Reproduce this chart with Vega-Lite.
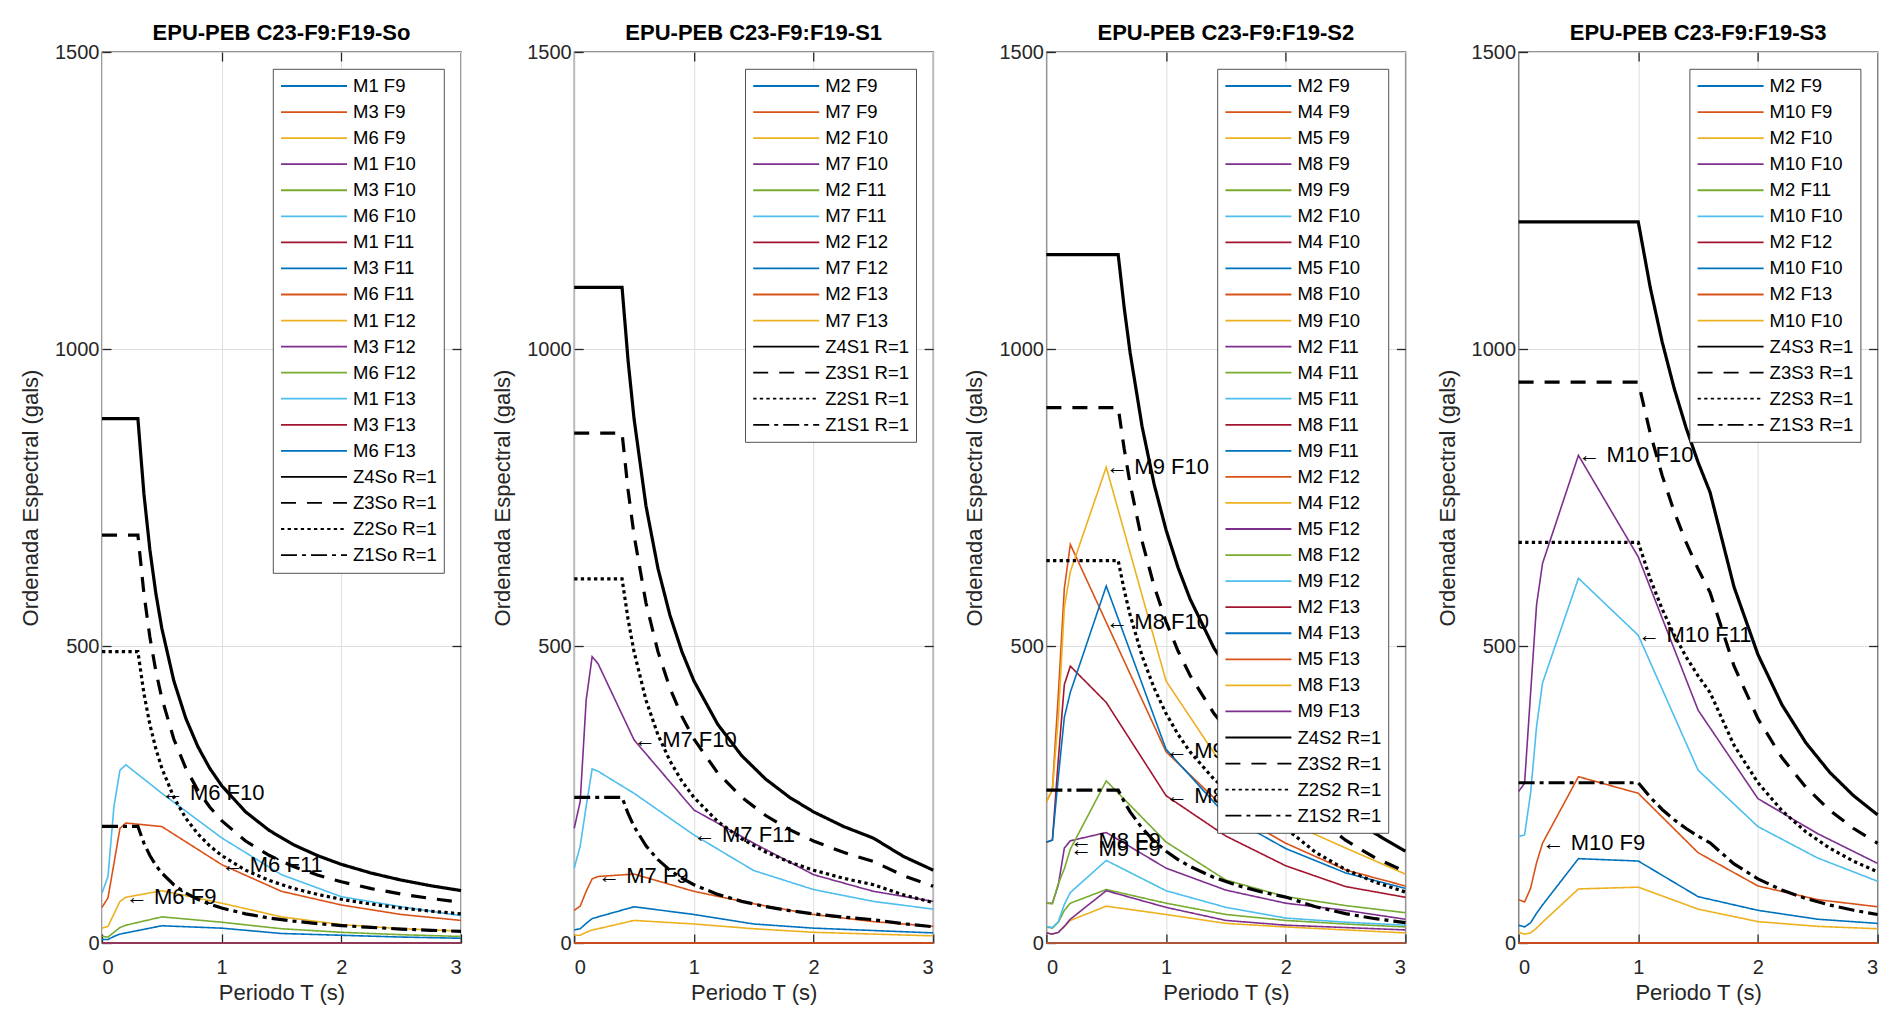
{
"$schema": "https://vega.github.io/schema/vega-lite/v6.json",
"padding": {"left": 18, "top": 21, "right": 5, "bottom": 5},
"background": "white",
"bounds": "flush",
"spacing": 113.2,
"resolve": {"scale": {"color": "independent", "strokeDash": "independent", "x": "independent", "y": "independent"}, "legend": {"color": "independent", "strokeDash": "independent"}},
"config": {
  "font": "Liberation Sans",
  "view": {"stroke": "#262626", "strokeWidth": 1.3},
  "axis": {"labelFont": "Liberation Sans", "labelFontSize": 20, "labelColor": "#262626", "titleFont": "Liberation Sans", "titleFontSize": 22, "titleFontWeight": "normal", "titleColor": "#262626", "gridColor": "#dedede", "gridWidth": 1, "domain": false, "tickColor": "#262626", "tickSize": -9, "tickWidth": 1.3},
  "legend": {"orient": "top-right", "offset": 17, "padding": 7, "fillColor": "white", "strokeColor": "#262626", "strokeWidth": 0.8, "labelFont": "Liberation Sans", "labelFontSize": 18.5, "labelColor": "#000000", "symbolType": "stroke", "symbolSize": 4356, "symbolStrokeWidth": 1.8, "clipHeight": 20, "rowPadding": 6.06, "labelOffset": 5, "labelLimit": 300, "symbolLimit": 50},
  "title": {"font": "Liberation Sans", "fontSize": 22, "fontWeight": "bold", "color": "#000000", "baseline": "alphabetic", "offset": -3}
},
"datasets": {
"d0": [
{"series":"M1 F9","T":0,"Sa":0},{"series":"M1 F9","T":3,"Sa":0},
{"series":"M3 F9","T":0,"Sa":0},{"series":"M3 F9","T":3,"Sa":0},
{"series":"M6 F9","T":0,"Sa":25},{"series":"M6 F9","T":0.05,"Sa":28},{"series":"M6 F9","T":0.1,"Sa":49},{"series":"M6 F9","T":0.15,"Sa":70},{"series":"M6 F9","T":0.2,"Sa":77},{"series":"M6 F9","T":0.5,"Sa":88},{"series":"M6 F9","T":1,"Sa":67},{"series":"M6 F9","T":1.5,"Sa":44},{"series":"M6 F9","T":2,"Sa":31},{"series":"M6 F9","T":2.5,"Sa":24},{"series":"M6 F9","T":3,"Sa":20},
{"series":"M1 F10","T":0,"Sa":0},{"series":"M1 F10","T":3,"Sa":0},
{"series":"M3 F10","T":0,"Sa":0},{"series":"M3 F10","T":3,"Sa":0},
{"series":"M6 F10","T":0,"Sa":84},{"series":"M6 F10","T":0.05,"Sa":112},{"series":"M6 F10","T":0.1,"Sa":230},{"series":"M6 F10","T":0.15,"Sa":291},{"series":"M6 F10","T":0.2,"Sa":300},{"series":"M6 F10","T":0.5,"Sa":252},{"series":"M6 F10","T":1,"Sa":177},{"series":"M6 F10","T":1.5,"Sa":115},{"series":"M6 F10","T":2,"Sa":78},{"series":"M6 F10","T":2.5,"Sa":61},{"series":"M6 F10","T":3,"Sa":46},
{"series":"M1 F11","T":0,"Sa":0},{"series":"M1 F11","T":3,"Sa":0},
{"series":"M3 F11","T":0,"Sa":0},{"series":"M3 F11","T":3,"Sa":0},
{"series":"M6 F11","T":0,"Sa":60},{"series":"M6 F11","T":0.05,"Sa":76},{"series":"M6 F11","T":0.1,"Sa":134},{"series":"M6 F11","T":0.15,"Sa":193},{"series":"M6 F11","T":0.2,"Sa":202},{"series":"M6 F11","T":0.5,"Sa":196},{"series":"M6 F11","T":1,"Sa":132},{"series":"M6 F11","T":1.5,"Sa":87},{"series":"M6 F11","T":2,"Sa":64},{"series":"M6 F11","T":2.5,"Sa":48},{"series":"M6 F11","T":3,"Sa":38},
{"series":"M1 F12","T":0,"Sa":0},{"series":"M1 F12","T":3,"Sa":0},
{"series":"M3 F12","T":0,"Sa":0},{"series":"M3 F12","T":3,"Sa":0},
{"series":"M6 F12","T":0,"Sa":11},{"series":"M6 F12","T":0.05,"Sa":10},{"series":"M6 F12","T":0.1,"Sa":18},{"series":"M6 F12","T":0.15,"Sa":26},{"series":"M6 F12","T":0.2,"Sa":30},{"series":"M6 F12","T":0.5,"Sa":44},{"series":"M6 F12","T":1,"Sa":35},{"series":"M6 F12","T":1.5,"Sa":24},{"series":"M6 F12","T":2,"Sa":18},{"series":"M6 F12","T":2.5,"Sa":14},{"series":"M6 F12","T":3,"Sa":11},
{"series":"M1 F13","T":0,"Sa":0},{"series":"M1 F13","T":3,"Sa":0},
{"series":"M3 F13","T":0,"Sa":0},{"series":"M3 F13","T":3,"Sa":0},
{"series":"M6 F13","T":0,"Sa":6},{"series":"M6 F13","T":0.05,"Sa":6},{"series":"M6 F13","T":0.1,"Sa":11},{"series":"M6 F13","T":0.15,"Sa":15},{"series":"M6 F13","T":0.2,"Sa":17},{"series":"M6 F13","T":0.5,"Sa":29},{"series":"M6 F13","T":1,"Sa":25},{"series":"M6 F13","T":1.5,"Sa":16},{"series":"M6 F13","T":2,"Sa":13},{"series":"M6 F13","T":2.5,"Sa":10},{"series":"M6 F13","T":3,"Sa":8},
{"series":"Z4So R=1","T":0,"Sa":882.9},{"series":"Z4So R=1","T":0.3,"Sa":882.9},{"series":"Z4So R=1","T":0.35,"Sa":756.8},{"series":"Z4So R=1","T":0.4,"Sa":662.2},{"series":"Z4So R=1","T":0.45,"Sa":588.6},{"series":"Z4So R=1","T":0.5,"Sa":529.7},{"series":"Z4So R=1","T":0.6,"Sa":441.5},{"series":"Z4So R=1","T":0.7,"Sa":378.4},{"series":"Z4So R=1","T":0.8,"Sa":331.1},{"series":"Z4So R=1","T":0.9,"Sa":294.3},{"series":"Z4So R=1","T":1,"Sa":264.9},{"series":"Z4So R=1","T":1.2,"Sa":220.7},{"series":"Z4So R=1","T":1.4,"Sa":189.2},{"series":"Z4So R=1","T":1.6,"Sa":165.5},{"series":"Z4So R=1","T":1.8,"Sa":147.2},{"series":"Z4So R=1","T":2,"Sa":132.4},{"series":"Z4So R=1","T":2.25,"Sa":117.7},{"series":"Z4So R=1","T":2.5,"Sa":105.9},{"series":"Z4So R=1","T":2.75,"Sa":96.3},{"series":"Z4So R=1","T":3,"Sa":88.3},
{"series":"Z3So R=1","T":0,"Sa":686.7},{"series":"Z3So R=1","T":0.3,"Sa":686.7},{"series":"Z3So R=1","T":0.35,"Sa":588.6},{"series":"Z3So R=1","T":0.4,"Sa":515.0},{"series":"Z3So R=1","T":0.45,"Sa":457.8},{"series":"Z3So R=1","T":0.5,"Sa":412.0},{"series":"Z3So R=1","T":0.6,"Sa":343.4},{"series":"Z3So R=1","T":0.7,"Sa":294.3},{"series":"Z3So R=1","T":0.8,"Sa":257.5},{"series":"Z3So R=1","T":0.9,"Sa":228.9},{"series":"Z3So R=1","T":1,"Sa":206.0},{"series":"Z3So R=1","T":1.2,"Sa":171.7},{"series":"Z3So R=1","T":1.4,"Sa":147.2},{"series":"Z3So R=1","T":1.6,"Sa":128.8},{"series":"Z3So R=1","T":1.8,"Sa":114.5},{"series":"Z3So R=1","T":2,"Sa":103.0},{"series":"Z3So R=1","T":2.25,"Sa":91.6},{"series":"Z3So R=1","T":2.5,"Sa":82.4},{"series":"Z3So R=1","T":2.75,"Sa":74.9},{"series":"Z3So R=1","T":3,"Sa":68.7},
{"series":"Z2So R=1","T":0,"Sa":490.5},{"series":"Z2So R=1","T":0.3,"Sa":490.5},{"series":"Z2So R=1","T":0.35,"Sa":420.4},{"series":"Z2So R=1","T":0.4,"Sa":367.9},{"series":"Z2So R=1","T":0.45,"Sa":327.0},{"series":"Z2So R=1","T":0.5,"Sa":294.3},{"series":"Z2So R=1","T":0.6,"Sa":245.3},{"series":"Z2So R=1","T":0.7,"Sa":210.2},{"series":"Z2So R=1","T":0.8,"Sa":183.9},{"series":"Z2So R=1","T":0.9,"Sa":163.5},{"series":"Z2So R=1","T":1,"Sa":147.2},{"series":"Z2So R=1","T":1.2,"Sa":122.6},{"series":"Z2So R=1","T":1.4,"Sa":105.1},{"series":"Z2So R=1","T":1.6,"Sa":92.0},{"series":"Z2So R=1","T":1.8,"Sa":81.8},{"series":"Z2So R=1","T":2,"Sa":73.6},{"series":"Z2So R=1","T":2.25,"Sa":65.4},{"series":"Z2So R=1","T":2.5,"Sa":58.9},{"series":"Z2So R=1","T":2.75,"Sa":53.5},{"series":"Z2So R=1","T":3,"Sa":49.1},
{"series":"Z1So R=1","T":0,"Sa":196.2},{"series":"Z1So R=1","T":0.3,"Sa":196.2},{"series":"Z1So R=1","T":0.35,"Sa":168.2},{"series":"Z1So R=1","T":0.4,"Sa":147.2},{"series":"Z1So R=1","T":0.45,"Sa":130.8},{"series":"Z1So R=1","T":0.5,"Sa":117.7},{"series":"Z1So R=1","T":0.6,"Sa":98.1},{"series":"Z1So R=1","T":0.7,"Sa":84.1},{"series":"Z1So R=1","T":0.8,"Sa":73.6},{"series":"Z1So R=1","T":0.9,"Sa":65.4},{"series":"Z1So R=1","T":1,"Sa":58.9},{"series":"Z1So R=1","T":1.2,"Sa":49.1},{"series":"Z1So R=1","T":1.4,"Sa":42.0},{"series":"Z1So R=1","T":1.6,"Sa":36.8},{"series":"Z1So R=1","T":1.8,"Sa":32.7},{"series":"Z1So R=1","T":2,"Sa":29.4},{"series":"Z1So R=1","T":2.25,"Sa":26.2},{"series":"Z1So R=1","T":2.5,"Sa":23.5},{"series":"Z1So R=1","T":2.75,"Sa":21.4},{"series":"Z1So R=1","T":3,"Sa":19.6}
],
"n0": [
{"T":0.5,"Sa":252,"label":"← M6 F10"},
{"T":1.0,"Sa":132,"label":"← M6 F11"},
{"T":0.2,"Sa":77,"label":"← M6 F9"}
],
"d1": [
{"series":"M2 F9","T":0,"Sa":0},{"series":"M2 F9","T":3,"Sa":0},
{"series":"M7 F9","T":0,"Sa":55},{"series":"M7 F9","T":0.05,"Sa":62},{"series":"M7 F9","T":0.1,"Sa":87},{"series":"M7 F9","T":0.15,"Sa":108},{"series":"M7 F9","T":0.2,"Sa":112},{"series":"M7 F9","T":0.5,"Sa":116},{"series":"M7 F9","T":1,"Sa":87},{"series":"M7 F9","T":1.5,"Sa":66},{"series":"M7 F9","T":2,"Sa":48},{"series":"M7 F9","T":2.5,"Sa":36},{"series":"M7 F9","T":3,"Sa":28},
{"series":"M2 F10","T":0,"Sa":0},{"series":"M2 F10","T":3,"Sa":0},
{"series":"M7 F10","T":0,"Sa":193},{"series":"M7 F10","T":0.05,"Sa":238},{"series":"M7 F10","T":0.1,"Sa":409},{"series":"M7 F10","T":0.15,"Sa":482},{"series":"M7 F10","T":0.2,"Sa":470},{"series":"M7 F10","T":0.5,"Sa":342},{"series":"M7 F10","T":1,"Sa":224},{"series":"M7 F10","T":1.5,"Sa":168},{"series":"M7 F10","T":2,"Sa":115},{"series":"M7 F10","T":2.5,"Sa":87},{"series":"M7 F10","T":3,"Sa":70},
{"series":"M2 F11","T":0,"Sa":0},{"series":"M2 F11","T":3,"Sa":0},
{"series":"M7 F11","T":0,"Sa":126},{"series":"M7 F11","T":0.05,"Sa":163},{"series":"M7 F11","T":0.1,"Sa":230},{"series":"M7 F11","T":0.15,"Sa":293},{"series":"M7 F11","T":0.2,"Sa":289},{"series":"M7 F11","T":0.5,"Sa":252},{"series":"M7 F11","T":1,"Sa":182},{"series":"M7 F11","T":1.5,"Sa":122},{"series":"M7 F11","T":2,"Sa":90},{"series":"M7 F11","T":2.5,"Sa":70},{"series":"M7 F11","T":3,"Sa":57},
{"series":"M2 F12","T":0,"Sa":0},{"series":"M2 F12","T":3,"Sa":0},
{"series":"M7 F12","T":0,"Sa":22},{"series":"M7 F12","T":0.05,"Sa":24},{"series":"M7 F12","T":0.1,"Sa":33},{"series":"M7 F12","T":0.15,"Sa":41},{"series":"M7 F12","T":0.2,"Sa":44},{"series":"M7 F12","T":0.5,"Sa":61},{"series":"M7 F12","T":1,"Sa":48},{"series":"M7 F12","T":1.5,"Sa":32},{"series":"M7 F12","T":2,"Sa":25},{"series":"M7 F12","T":2.5,"Sa":21},{"series":"M7 F12","T":3,"Sa":17},
{"series":"M2 F13","T":0,"Sa":0},{"series":"M2 F13","T":3,"Sa":0},
{"series":"M7 F13","T":0,"Sa":13},{"series":"M7 F13","T":0.05,"Sa":13},{"series":"M7 F13","T":0.1,"Sa":18},{"series":"M7 F13","T":0.15,"Sa":22},{"series":"M7 F13","T":0.2,"Sa":24},{"series":"M7 F13","T":0.5,"Sa":38},{"series":"M7 F13","T":1,"Sa":32},{"series":"M7 F13","T":1.5,"Sa":24},{"series":"M7 F13","T":2,"Sa":18},{"series":"M7 F13","T":2.5,"Sa":15},{"series":"M7 F13","T":3,"Sa":12},
{"series":"Z4S1 R=1","T":0,"Sa":1103.6},{"series":"Z4S1 R=1","T":0.4,"Sa":1103.6},{"series":"Z4S1 R=1","T":0.45,"Sa":981.0},{"series":"Z4S1 R=1","T":0.5,"Sa":882.9},{"series":"Z4S1 R=1","T":0.6,"Sa":735.7},{"series":"Z4S1 R=1","T":0.7,"Sa":630.6},{"series":"Z4S1 R=1","T":0.8,"Sa":551.8},{"series":"Z4S1 R=1","T":0.9,"Sa":490.5},{"series":"Z4S1 R=1","T":1,"Sa":441.4},{"series":"Z4S1 R=1","T":1.2,"Sa":367.9},{"series":"Z4S1 R=1","T":1.4,"Sa":315.3},{"series":"Z4S1 R=1","T":1.6,"Sa":275.9},{"series":"Z4S1 R=1","T":1.8,"Sa":245.2},{"series":"Z4S1 R=1","T":2,"Sa":220.7},{"series":"Z4S1 R=1","T":2.25,"Sa":196.2},{"series":"Z4S1 R=1","T":2.5,"Sa":176.6},{"series":"Z4S1 R=1","T":2.75,"Sa":145.9},{"series":"Z4S1 R=1","T":3,"Sa":122.6},
{"series":"Z3S1 R=1","T":0,"Sa":858.4},{"series":"Z3S1 R=1","T":0.4,"Sa":858.4},{"series":"Z3S1 R=1","T":0.45,"Sa":763.0},{"series":"Z3S1 R=1","T":0.5,"Sa":686.7},{"series":"Z3S1 R=1","T":0.6,"Sa":572.3},{"series":"Z3S1 R=1","T":0.7,"Sa":490.5},{"series":"Z3S1 R=1","T":0.8,"Sa":429.2},{"series":"Z3S1 R=1","T":0.9,"Sa":381.5},{"series":"Z3S1 R=1","T":1,"Sa":343.4},{"series":"Z3S1 R=1","T":1.2,"Sa":286.1},{"series":"Z3S1 R=1","T":1.4,"Sa":245.3},{"series":"Z3S1 R=1","T":1.6,"Sa":214.6},{"series":"Z3S1 R=1","T":1.8,"Sa":190.8},{"series":"Z3S1 R=1","T":2,"Sa":171.7},{"series":"Z3S1 R=1","T":2.25,"Sa":152.6},{"series":"Z3S1 R=1","T":2.5,"Sa":137.3},{"series":"Z3S1 R=1","T":2.75,"Sa":113.5},{"series":"Z3S1 R=1","T":3,"Sa":95.4},
{"series":"Z2S1 R=1","T":0,"Sa":613.1},{"series":"Z2S1 R=1","T":0.4,"Sa":613.1},{"series":"Z2S1 R=1","T":0.45,"Sa":545.0},{"series":"Z2S1 R=1","T":0.5,"Sa":490.5},{"series":"Z2S1 R=1","T":0.6,"Sa":408.7},{"series":"Z2S1 R=1","T":0.7,"Sa":350.3},{"series":"Z2S1 R=1","T":0.8,"Sa":306.6},{"series":"Z2S1 R=1","T":0.9,"Sa":272.5},{"series":"Z2S1 R=1","T":1,"Sa":245.2},{"series":"Z2S1 R=1","T":1.2,"Sa":204.4},{"series":"Z2S1 R=1","T":1.4,"Sa":175.2},{"series":"Z2S1 R=1","T":1.6,"Sa":153.3},{"series":"Z2S1 R=1","T":1.8,"Sa":136.2},{"series":"Z2S1 R=1","T":2,"Sa":122.6},{"series":"Z2S1 R=1","T":2.25,"Sa":109.0},{"series":"Z2S1 R=1","T":2.5,"Sa":98.1},{"series":"Z2S1 R=1","T":2.75,"Sa":81.1},{"series":"Z2S1 R=1","T":3,"Sa":68.1},
{"series":"Z1S1 R=1","T":0,"Sa":245.3},{"series":"Z1S1 R=1","T":0.4,"Sa":245.3},{"series":"Z1S1 R=1","T":0.45,"Sa":218.0},{"series":"Z1S1 R=1","T":0.5,"Sa":196.2},{"series":"Z1S1 R=1","T":0.6,"Sa":163.5},{"series":"Z1S1 R=1","T":0.7,"Sa":140.2},{"series":"Z1S1 R=1","T":0.8,"Sa":122.6},{"series":"Z1S1 R=1","T":0.9,"Sa":109.0},{"series":"Z1S1 R=1","T":1,"Sa":98.1},{"series":"Z1S1 R=1","T":1.2,"Sa":81.8},{"series":"Z1S1 R=1","T":1.4,"Sa":70.1},{"series":"Z1S1 R=1","T":1.6,"Sa":61.3},{"series":"Z1S1 R=1","T":1.8,"Sa":54.5},{"series":"Z1S1 R=1","T":2,"Sa":49.1},{"series":"Z1S1 R=1","T":2.25,"Sa":43.6},{"series":"Z1S1 R=1","T":2.5,"Sa":39.2},{"series":"Z1S1 R=1","T":2.75,"Sa":32.4},{"series":"Z1S1 R=1","T":3,"Sa":27.3}
],
"n1": [
{"T":0.5,"Sa":342,"label":"← M7 F10"},
{"T":1.0,"Sa":182,"label":"← M7 F11"},
{"T":0.2,"Sa":112,"label":"← M7 F9"}
],
"d2": [
{"series":"M2 F9","T":0,"Sa":0},{"series":"M2 F9","T":3,"Sa":0},
{"series":"M4 F9","T":0,"Sa":0},{"series":"M4 F9","T":3,"Sa":0},
{"series":"M5 F9","T":0,"Sa":0},{"series":"M5 F9","T":3,"Sa":0},
{"series":"M8 F9","T":0,"Sa":67},{"series":"M8 F9","T":0.05,"Sa":67},{"series":"M8 F9","T":0.1,"Sa":98},{"series":"M8 F9","T":0.15,"Sa":160},{"series":"M8 F9","T":0.2,"Sa":172},{"series":"M8 F9","T":0.5,"Sa":186},{"series":"M8 F9","T":1,"Sa":126},{"series":"M8 F9","T":1.5,"Sa":89},{"series":"M8 F9","T":2,"Sa":67},{"series":"M8 F9","T":2.5,"Sa":55},{"series":"M8 F9","T":3,"Sa":40},
{"series":"M9 F9","T":0,"Sa":67},{"series":"M9 F9","T":0.05,"Sa":66},{"series":"M9 F9","T":0.1,"Sa":100},{"series":"M9 F9","T":0.15,"Sa":125},{"series":"M9 F9","T":0.2,"Sa":158},{"series":"M9 F9","T":0.5,"Sa":273},{"series":"M9 F9","T":1,"Sa":170},{"series":"M9 F9","T":1.5,"Sa":106},{"series":"M9 F9","T":2,"Sa":78},{"series":"M9 F9","T":2.5,"Sa":63},{"series":"M9 F9","T":3,"Sa":51},
{"series":"M2 F10","T":0,"Sa":0},{"series":"M2 F10","T":3,"Sa":0},
{"series":"M4 F10","T":0,"Sa":0},{"series":"M4 F10","T":3,"Sa":0},
{"series":"M5 F10","T":0,"Sa":0},{"series":"M5 F10","T":3,"Sa":0},
{"series":"M8 F10","T":0,"Sa":238},{"series":"M8 F10","T":0.05,"Sa":258},{"series":"M8 F10","T":0.1,"Sa":420},{"series":"M8 F10","T":0.15,"Sa":597},{"series":"M8 F10","T":0.2,"Sa":671},{"series":"M8 F10","T":0.5,"Sa":540},{"series":"M8 F10","T":1,"Sa":322},{"series":"M8 F10","T":1.5,"Sa":225},{"series":"M8 F10","T":2,"Sa":168},{"series":"M8 F10","T":2.5,"Sa":123},{"series":"M8 F10","T":3,"Sa":96},
{"series":"M9 F10","T":0,"Sa":238},{"series":"M9 F10","T":0.05,"Sa":258},{"series":"M9 F10","T":0.1,"Sa":380},{"series":"M9 F10","T":0.15,"Sa":565},{"series":"M9 F10","T":0.2,"Sa":625},{"series":"M9 F10","T":0.5,"Sa":801},{"series":"M9 F10","T":1,"Sa":441},{"series":"M9 F10","T":1.5,"Sa":290},{"series":"M9 F10","T":2,"Sa":205},{"series":"M9 F10","T":2.5,"Sa":160},{"series":"M9 F10","T":3,"Sa":116},
{"series":"M2 F11","T":0,"Sa":0},{"series":"M2 F11","T":3,"Sa":0},
{"series":"M4 F11","T":0,"Sa":0},{"series":"M4 F11","T":3,"Sa":0},
{"series":"M5 F11","T":0,"Sa":0},{"series":"M5 F11","T":3,"Sa":0},
{"series":"M8 F11","T":0,"Sa":170},{"series":"M8 F11","T":0.05,"Sa":173},{"series":"M8 F11","T":0.1,"Sa":310},{"series":"M8 F11","T":0.15,"Sa":435},{"series":"M8 F11","T":0.2,"Sa":466},{"series":"M8 F11","T":0.5,"Sa":405},{"series":"M8 F11","T":1,"Sa":248},{"series":"M8 F11","T":1.5,"Sa":180},{"series":"M8 F11","T":2,"Sa":130},{"series":"M8 F11","T":2.5,"Sa":95},{"series":"M8 F11","T":3,"Sa":77},
{"series":"M9 F11","T":0,"Sa":170},{"series":"M9 F11","T":0.05,"Sa":173},{"series":"M9 F11","T":0.1,"Sa":280},{"series":"M9 F11","T":0.15,"Sa":380},{"series":"M9 F11","T":0.2,"Sa":422},{"series":"M9 F11","T":0.5,"Sa":601},{"series":"M9 F11","T":1,"Sa":326},{"series":"M9 F11","T":1.5,"Sa":215},{"series":"M9 F11","T":2,"Sa":159},{"series":"M9 F11","T":2.5,"Sa":118},{"series":"M9 F11","T":3,"Sa":92},
{"series":"M2 F12","T":0,"Sa":0},{"series":"M2 F12","T":3,"Sa":0},
{"series":"M4 F12","T":0,"Sa":0},{"series":"M4 F12","T":3,"Sa":0},
{"series":"M5 F12","T":0,"Sa":0},{"series":"M5 F12","T":3,"Sa":0},
{"series":"M8 F12","T":0,"Sa":27},{"series":"M8 F12","T":0.05,"Sa":25},{"series":"M8 F12","T":0.1,"Sa":35},{"series":"M8 F12","T":0.15,"Sa":55},{"series":"M8 F12","T":0.2,"Sa":67},{"series":"M8 F12","T":0.5,"Sa":90},{"series":"M8 F12","T":1,"Sa":67},{"series":"M8 F12","T":1.5,"Sa":48},{"series":"M8 F12","T":2,"Sa":38},{"series":"M8 F12","T":2.5,"Sa":32},{"series":"M8 F12","T":3,"Sa":27},
{"series":"M9 F12","T":0,"Sa":28},{"series":"M9 F12","T":0.05,"Sa":26},{"series":"M9 F12","T":0.1,"Sa":36},{"series":"M9 F12","T":0.15,"Sa":65},{"series":"M9 F12","T":0.2,"Sa":85},{"series":"M9 F12","T":0.5,"Sa":139},{"series":"M9 F12","T":1,"Sa":88},{"series":"M9 F12","T":1.5,"Sa":60},{"series":"M9 F12","T":2,"Sa":42},{"series":"M9 F12","T":2.5,"Sa":35},{"series":"M9 F12","T":3,"Sa":30},
{"series":"M2 F13","T":0,"Sa":0},{"series":"M2 F13","T":3,"Sa":0},
{"series":"M4 F13","T":0,"Sa":0},{"series":"M4 F13","T":3,"Sa":0},
{"series":"M5 F13","T":0,"Sa":0},{"series":"M5 F13","T":3,"Sa":0},
{"series":"M8 F13","T":0,"Sa":17},{"series":"M8 F13","T":0.05,"Sa":15},{"series":"M8 F13","T":0.1,"Sa":18},{"series":"M8 F13","T":0.15,"Sa":28},{"series":"M8 F13","T":0.2,"Sa":38},{"series":"M8 F13","T":0.5,"Sa":62},{"series":"M8 F13","T":1,"Sa":48},{"series":"M8 F13","T":1.5,"Sa":33},{"series":"M8 F13","T":2,"Sa":27},{"series":"M8 F13","T":2.5,"Sa":22},{"series":"M8 F13","T":3,"Sa":17},
{"series":"M9 F13","T":0,"Sa":17},{"series":"M9 F13","T":0.05,"Sa":15},{"series":"M9 F13","T":0.1,"Sa":18},{"series":"M9 F13","T":0.15,"Sa":28},{"series":"M9 F13","T":0.2,"Sa":40},{"series":"M9 F13","T":0.5,"Sa":88},{"series":"M9 F13","T":1,"Sa":60},{"series":"M9 F13","T":1.5,"Sa":38},{"series":"M9 F13","T":2,"Sa":30},{"series":"M9 F13","T":2.5,"Sa":26},{"series":"M9 F13","T":3,"Sa":22},
{"series":"Z4S2 R=1","T":0,"Sa":1158.8},{"series":"Z4S2 R=1","T":0.6,"Sa":1158.8},{"series":"Z4S2 R=1","T":0.65,"Sa":1069.7},{"series":"Z4S2 R=1","T":0.7,"Sa":993.3},{"series":"Z4S2 R=1","T":0.8,"Sa":869.1},{"series":"Z4S2 R=1","T":0.9,"Sa":772.5},{"series":"Z4S2 R=1","T":1,"Sa":695.3},{"series":"Z4S2 R=1","T":1.1,"Sa":632.1},{"series":"Z4S2 R=1","T":1.2,"Sa":579.4},{"series":"Z4S2 R=1","T":1.4,"Sa":496.6},{"series":"Z4S2 R=1","T":1.6,"Sa":434.6},{"series":"Z4S2 R=1","T":1.8,"Sa":386.3},{"series":"Z4S2 R=1","T":2,"Sa":347.6},{"series":"Z4S2 R=1","T":2.25,"Sa":274.7},{"series":"Z4S2 R=1","T":2.5,"Sa":222.5},{"series":"Z4S2 R=1","T":2.75,"Sa":183.9},{"series":"Z4S2 R=1","T":3,"Sa":154.5},
{"series":"Z3S2 R=1","T":0,"Sa":901.3},{"series":"Z3S2 R=1","T":0.6,"Sa":901.3},{"series":"Z3S2 R=1","T":0.65,"Sa":832.0},{"series":"Z3S2 R=1","T":0.7,"Sa":772.5},{"series":"Z3S2 R=1","T":0.8,"Sa":676.0},{"series":"Z3S2 R=1","T":0.9,"Sa":600.9},{"series":"Z3S2 R=1","T":1,"Sa":540.8},{"series":"Z3S2 R=1","T":1.1,"Sa":491.6},{"series":"Z3S2 R=1","T":1.2,"Sa":450.7},{"series":"Z3S2 R=1","T":1.4,"Sa":386.3},{"series":"Z3S2 R=1","T":1.6,"Sa":338.0},{"series":"Z3S2 R=1","T":1.8,"Sa":300.4},{"series":"Z3S2 R=1","T":2,"Sa":270.4},{"series":"Z3S2 R=1","T":2.25,"Sa":213.6},{"series":"Z3S2 R=1","T":2.5,"Sa":173.0},{"series":"Z3S2 R=1","T":2.75,"Sa":143.0},{"series":"Z3S2 R=1","T":3,"Sa":120.2},
{"series":"Z2S2 R=1","T":0,"Sa":643.8},{"series":"Z2S2 R=1","T":0.6,"Sa":643.8},{"series":"Z2S2 R=1","T":0.65,"Sa":594.3},{"series":"Z2S2 R=1","T":0.7,"Sa":551.8},{"series":"Z2S2 R=1","T":0.8,"Sa":482.9},{"series":"Z2S2 R=1","T":0.9,"Sa":429.2},{"series":"Z2S2 R=1","T":1,"Sa":386.3},{"series":"Z2S2 R=1","T":1.1,"Sa":351.2},{"series":"Z2S2 R=1","T":1.2,"Sa":321.9},{"series":"Z2S2 R=1","T":1.4,"Sa":275.9},{"series":"Z2S2 R=1","T":1.6,"Sa":241.4},{"series":"Z2S2 R=1","T":1.8,"Sa":214.6},{"series":"Z2S2 R=1","T":2,"Sa":193.1},{"series":"Z2S2 R=1","T":2.25,"Sa":152.6},{"series":"Z2S2 R=1","T":2.5,"Sa":123.6},{"series":"Z2S2 R=1","T":2.75,"Sa":102.2},{"series":"Z2S2 R=1","T":3,"Sa":85.8},
{"series":"Z1S2 R=1","T":0,"Sa":257.5},{"series":"Z1S2 R=1","T":0.6,"Sa":257.5},{"series":"Z1S2 R=1","T":0.65,"Sa":237.7},{"series":"Z1S2 R=1","T":0.7,"Sa":220.7},{"series":"Z1S2 R=1","T":0.8,"Sa":193.1},{"series":"Z1S2 R=1","T":0.9,"Sa":171.7},{"series":"Z1S2 R=1","T":1,"Sa":154.5},{"series":"Z1S2 R=1","T":1.1,"Sa":140.5},{"series":"Z1S2 R=1","T":1.2,"Sa":128.8},{"series":"Z1S2 R=1","T":1.4,"Sa":110.4},{"series":"Z1S2 R=1","T":1.6,"Sa":96.6},{"series":"Z1S2 R=1","T":1.8,"Sa":85.8},{"series":"Z1S2 R=1","T":2,"Sa":77.3},{"series":"Z1S2 R=1","T":2.25,"Sa":61.0},{"series":"Z1S2 R=1","T":2.5,"Sa":49.4},{"series":"Z1S2 R=1","T":2.75,"Sa":40.9},{"series":"Z1S2 R=1","T":3,"Sa":34.3}
],
"n2": [
{"T":0.5,"Sa":801,"label":"← M9 F10"},
{"T":0.5,"Sa":540,"label":"← M8 F10"},
{"T":1.0,"Sa":324,"label":"← M9 F11"},
{"T":1.0,"Sa":248,"label":"← M8 F11"},
{"T":0.2,"Sa":172,"label":"← M8 F9"},
{"T":0.2,"Sa":158,"label":"← M9 F9"}
],
"d3": [
{"series":"M2 F9","T":0,"Sa":0},{"series":"M2 F9","T":3,"Sa":0},
{"series":"M10 F9","T":0,"Sa":73},{"series":"M10 F9","T":0.05,"Sa":69},{"series":"M10 F9","T":0.1,"Sa":92},{"series":"M10 F9","T":0.15,"Sa":135},{"series":"M10 F9","T":0.2,"Sa":168},{"series":"M10 F9","T":0.5,"Sa":280},{"series":"M10 F9","T":1,"Sa":252},{"series":"M10 F9","T":1.5,"Sa":152},{"series":"M10 F9","T":2,"Sa":96},{"series":"M10 F9","T":2.5,"Sa":73},{"series":"M10 F9","T":3,"Sa":61},
{"series":"M2 F10","T":0,"Sa":0},{"series":"M2 F10","T":3,"Sa":0},
{"series":"M10 F10","T":0,"Sa":255},{"series":"M10 F10","T":0.05,"Sa":269},{"series":"M10 F10","T":0.1,"Sa":420},{"series":"M10 F10","T":0.15,"Sa":569},{"series":"M10 F10","T":0.2,"Sa":639},{"series":"M10 F10","T":0.5,"Sa":821},{"series":"M10 F10","T":1,"Sa":650},{"series":"M10 F10","T":1.5,"Sa":392},{"series":"M10 F10","T":2,"Sa":243},{"series":"M10 F10","T":2.5,"Sa":184},{"series":"M10 F10","T":3,"Sa":134},
{"series":"M2 F11","T":0,"Sa":0},{"series":"M2 F11","T":3,"Sa":0},
{"series":"M10 F11","T":0,"Sa":179},{"series":"M10 F11","T":0.05,"Sa":182},{"series":"M10 F11","T":0.1,"Sa":252},{"series":"M10 F11","T":0.15,"Sa":364},{"series":"M10 F11","T":0.2,"Sa":438},{"series":"M10 F11","T":0.5,"Sa":614},{"series":"M10 F11","T":1,"Sa":518},{"series":"M10 F11","T":1.5,"Sa":291},{"series":"M10 F11","T":2,"Sa":196},{"series":"M10 F11","T":2.5,"Sa":143},{"series":"M10 F11","T":3,"Sa":104},
{"series":"M2 F12","T":0,"Sa":0},{"series":"M2 F12","T":3,"Sa":0},
{"series":"M10 F12","T":0,"Sa":30},{"series":"M10 F12","T":0.05,"Sa":27},{"series":"M10 F12","T":0.1,"Sa":34},{"series":"M10 F12","T":0.15,"Sa":50},{"series":"M10 F12","T":0.2,"Sa":64},{"series":"M10 F12","T":0.5,"Sa":142},{"series":"M10 F12","T":1,"Sa":138},{"series":"M10 F12","T":1.5,"Sa":78},{"series":"M10 F12","T":2,"Sa":55},{"series":"M10 F12","T":2.5,"Sa":40},{"series":"M10 F12","T":3,"Sa":33},
{"series":"M2 F13","T":0,"Sa":0},{"series":"M2 F13","T":3,"Sa":0},
{"series":"M10 F13","T":0,"Sa":18},{"series":"M10 F13","T":0.05,"Sa":15},{"series":"M10 F13","T":0.1,"Sa":17},{"series":"M10 F13","T":0.15,"Sa":25},{"series":"M10 F13","T":0.2,"Sa":35},{"series":"M10 F13","T":0.5,"Sa":91},{"series":"M10 F13","T":1,"Sa":94},{"series":"M10 F13","T":1.5,"Sa":57},{"series":"M10 F13","T":2,"Sa":36},{"series":"M10 F13","T":2.5,"Sa":28},{"series":"M10 F13","T":3,"Sa":24},
{"series":"Z4S3 R=1","T":0,"Sa":1214.0},{"series":"Z4S3 R=1","T":1,"Sa":1214.0},{"series":"Z4S3 R=1","T":1.1,"Sa":1103.6},{"series":"Z4S3 R=1","T":1.2,"Sa":1011.7},{"series":"Z4S3 R=1","T":1.3,"Sa":933.8},{"series":"Z4S3 R=1","T":1.4,"Sa":867.1},{"series":"Z4S3 R=1","T":1.5,"Sa":809.3},{"series":"Z4S3 R=1","T":1.6,"Sa":758.8},{"series":"Z4S3 R=1","T":1.8,"Sa":599.5},{"series":"Z4S3 R=1","T":2,"Sa":485.6},{"series":"Z4S3 R=1","T":2.2,"Sa":401.3},{"series":"Z4S3 R=1","T":2.4,"Sa":337.2},{"series":"Z4S3 R=1","T":2.6,"Sa":287.3},{"series":"Z4S3 R=1","T":2.8,"Sa":247.8},{"series":"Z4S3 R=1","T":3,"Sa":215.8},
{"series":"Z3S3 R=1","T":0,"Sa":944.2},{"series":"Z3S3 R=1","T":1,"Sa":944.2},{"series":"Z3S3 R=1","T":1.1,"Sa":858.4},{"series":"Z3S3 R=1","T":1.2,"Sa":786.8},{"series":"Z3S3 R=1","T":1.3,"Sa":726.3},{"series":"Z3S3 R=1","T":1.4,"Sa":674.4},{"series":"Z3S3 R=1","T":1.5,"Sa":629.5},{"series":"Z3S3 R=1","T":1.6,"Sa":590.1},{"series":"Z3S3 R=1","T":1.8,"Sa":466.3},{"series":"Z3S3 R=1","T":2,"Sa":377.7},{"series":"Z3S3 R=1","T":2.2,"Sa":312.1},{"series":"Z3S3 R=1","T":2.4,"Sa":262.3},{"series":"Z3S3 R=1","T":2.6,"Sa":223.5},{"series":"Z3S3 R=1","T":2.8,"Sa":192.7},{"series":"Z3S3 R=1","T":3,"Sa":167.9},
{"series":"Z2S3 R=1","T":0,"Sa":674.4},{"series":"Z2S3 R=1","T":1,"Sa":674.4},{"series":"Z2S3 R=1","T":1.1,"Sa":613.1},{"series":"Z2S3 R=1","T":1.2,"Sa":562.0},{"series":"Z2S3 R=1","T":1.3,"Sa":518.8},{"series":"Z2S3 R=1","T":1.4,"Sa":481.7},{"series":"Z2S3 R=1","T":1.5,"Sa":449.6},{"series":"Z2S3 R=1","T":1.6,"Sa":421.5},{"series":"Z2S3 R=1","T":1.8,"Sa":333.0},{"series":"Z2S3 R=1","T":2,"Sa":269.8},{"series":"Z2S3 R=1","T":2.2,"Sa":222.9},{"series":"Z2S3 R=1","T":2.4,"Sa":187.3},{"series":"Z2S3 R=1","T":2.6,"Sa":159.6},{"series":"Z2S3 R=1","T":2.8,"Sa":137.6},{"series":"Z2S3 R=1","T":3,"Sa":119.9},
{"series":"Z1S3 R=1","T":0,"Sa":269.8},{"series":"Z1S3 R=1","T":1,"Sa":269.8},{"series":"Z1S3 R=1","T":1.1,"Sa":245.3},{"series":"Z1S3 R=1","T":1.2,"Sa":224.8},{"series":"Z1S3 R=1","T":1.3,"Sa":207.5},{"series":"Z1S3 R=1","T":1.4,"Sa":192.7},{"series":"Z1S3 R=1","T":1.5,"Sa":179.9},{"series":"Z1S3 R=1","T":1.6,"Sa":168.6},{"series":"Z1S3 R=1","T":1.8,"Sa":133.2},{"series":"Z1S3 R=1","T":2,"Sa":107.9},{"series":"Z1S3 R=1","T":2.2,"Sa":89.2},{"series":"Z1S3 R=1","T":2.4,"Sa":74.9},{"series":"Z1S3 R=1","T":2.6,"Sa":63.9},{"series":"Z1S3 R=1","T":2.8,"Sa":55.1},{"series":"Z1S3 R=1","T":3,"Sa":48.0}
],
"n3": [
{"T":0.5,"Sa":821,"label":"← M10 F10"},
{"T":1.0,"Sa":518,"label":"← M10 F11"},
{"T":0.2,"Sa":168,"label":"← M10 F9"}
]
},
"hconcat": [
{
 "width": 359, "height": 891,
 "title": {"text": "EPU-PEB C23-F9:F19-So"},
 "layer": [
  {"data": {"name": "d0"},
   "mark": {"type": "line", "strokeCap": "butt", "strokeJoin": "miter"},
   "encoding": {
    "x": {"field": "T", "type": "quantitative", "scale": {"domain": [0, 3], "nice": false, "zero": false}, "axis": {"values": [0,1,2,3], "title": "Periodo T (s)", "grid": true, "labelPadding": 23, "titlePadding": 5}},
    "y": {"field": "Sa", "type": "quantitative", "scale": {"domain": [0, 1500], "nice": false}, "axis": {"values": [0,500,1000,1500], "format": "d", "title": "Ordenada Espectral (gals)", "grid": true, "labelPadding": 12, "titlePadding": 12}},
    "color": {"field": "series", "type": "nominal", "scale": {"domain": ["M1 F9","M3 F9","M6 F9","M1 F10","M3 F10","M6 F10","M1 F11","M3 F11","M6 F11","M1 F12","M3 F12","M6 F12","M1 F13","M3 F13","M6 F13","Z4So R=1","Z3So R=1","Z2So R=1","Z1So R=1"], "range": ["#0072BD","#D95319","#EDB120","#7E2F8E","#77AC30","#4DBEEE","#A2142F","#0072BD","#D95319","#EDB120","#7E2F8E","#77AC30","#4DBEEE","#A2142F","#0072BD","#000000","#000000","#000000","#000000"]}, "legend": {"title": null}},
    "strokeDash": {"field": "series", "type": "nominal", "scale": {"domain": ["M1 F9","M3 F9","M6 F9","M1 F10","M3 F10","M6 F10","M1 F11","M3 F11","M6 F11","M1 F12","M3 F12","M6 F12","M1 F13","M3 F13","M6 F13","Z4So R=1","Z3So R=1","Z2So R=1","Z1So R=1"], "range": [[1,0],[1,0],[1,0],[1,0],[1,0],[1,0],[1,0],[1,0],[1,0],[1,0],[1,0],[1,0],[1,0],[1,0],[1,0],[1,0],[15,11],[3.3,3.3],[16,5,4,5]]}, "legend": {"title": null}},
    "strokeWidth": {"condition": {"test": "indexof(datum.series, 'R=1') >= 0", "value": 3.2}, "value": 1.6}
   }},
  {"data": {"name": "n0"},
   "mark": {"type": "text", "align": "left", "baseline": "middle", "fontSize": 22, "font": "Liberation Sans", "color": "#000000"},
   "encoding": {
    "x": {"field": "T", "type": "quantitative", "scale": {"domain": [0, 3], "nice": false, "zero": false}, "axis": {"orient": "top", "values": [1,2], "labels": false, "grid": false, "title": null}},
    "y": {"field": "Sa", "type": "quantitative", "scale": {"domain": [0, 1500], "nice": false}, "axis": {"orient": "right", "values": [500,1000], "labels": false, "grid": false, "title": null}},
    "text": {"field": "label"}
   }}
 ],
 "resolve": {"axis": {"x": "independent", "y": "independent"}}
},
{
 "width": 359, "height": 891,
 "title": {"text": "EPU-PEB C23-F9:F19-S1"},
 "layer": [
  {"data": {"name": "d1"},
   "mark": {"type": "line", "strokeCap": "butt", "strokeJoin": "miter"},
   "encoding": {
    "x": {"field": "T", "type": "quantitative", "scale": {"domain": [0, 3], "nice": false, "zero": false}, "axis": {"values": [0,1,2,3], "title": "Periodo T (s)", "grid": true, "labelPadding": 23, "titlePadding": 5}},
    "y": {"field": "Sa", "type": "quantitative", "scale": {"domain": [0, 1500], "nice": false}, "axis": {"values": [0,500,1000,1500], "format": "d", "title": "Ordenada Espectral (gals)", "grid": true, "labelPadding": 12, "titlePadding": 12}},
    "color": {"field": "series", "type": "nominal", "scale": {"domain": ["M2 F9","M7 F9","M2 F10","M7 F10","M2 F11","M7 F11","M2 F12","M7 F12","M2 F13","M7 F13","Z4S1 R=1","Z3S1 R=1","Z2S1 R=1","Z1S1 R=1"], "range": ["#0072BD","#D95319","#EDB120","#7E2F8E","#77AC30","#4DBEEE","#A2142F","#0072BD","#D95319","#EDB120","#000000","#000000","#000000","#000000"]}, "legend": {"title": null}},
    "strokeDash": {"field": "series", "type": "nominal", "scale": {"domain": ["M2 F9","M7 F9","M2 F10","M7 F10","M2 F11","M7 F11","M2 F12","M7 F12","M2 F13","M7 F13","Z4S1 R=1","Z3S1 R=1","Z2S1 R=1","Z1S1 R=1"], "range": [[1,0],[1,0],[1,0],[1,0],[1,0],[1,0],[1,0],[1,0],[1,0],[1,0],[1,0],[15,11],[3.3,3.3],[16,5,4,5]]}, "legend": {"title": null}},
    "strokeWidth": {"condition": {"test": "indexof(datum.series, 'R=1') >= 0", "value": 3.2}, "value": 1.6}
   }},
  {"data": {"name": "n1"},
   "mark": {"type": "text", "align": "left", "baseline": "middle", "fontSize": 22, "font": "Liberation Sans", "color": "#000000"},
   "encoding": {
    "x": {"field": "T", "type": "quantitative", "scale": {"domain": [0, 3], "nice": false, "zero": false}, "axis": {"orient": "top", "values": [1,2], "labels": false, "grid": false, "title": null}},
    "y": {"field": "Sa", "type": "quantitative", "scale": {"domain": [0, 1500], "nice": false}, "axis": {"orient": "right", "values": [500,1000], "labels": false, "grid": false, "title": null}},
    "text": {"field": "label"}
   }}
 ],
 "resolve": {"axis": {"x": "independent", "y": "independent"}}
},
{
 "width": 359, "height": 891,
 "title": {"text": "EPU-PEB C23-F9:F19-S2"},
 "layer": [
  {"data": {"name": "d2"},
   "mark": {"type": "line", "strokeCap": "butt", "strokeJoin": "miter"},
   "encoding": {
    "x": {"field": "T", "type": "quantitative", "scale": {"domain": [0, 3], "nice": false, "zero": false}, "axis": {"values": [0,1,2,3], "title": "Periodo T (s)", "grid": true, "labelPadding": 23, "titlePadding": 5}},
    "y": {"field": "Sa", "type": "quantitative", "scale": {"domain": [0, 1500], "nice": false}, "axis": {"values": [0,500,1000,1500], "format": "d", "title": "Ordenada Espectral (gals)", "grid": true, "labelPadding": 12, "titlePadding": 12}},
    "color": {"field": "series", "type": "nominal", "scale": {"domain": ["M2 F9","M4 F9","M5 F9","M8 F9","M9 F9","M2 F10","M4 F10","M5 F10","M8 F10","M9 F10","M2 F11","M4 F11","M5 F11","M8 F11","M9 F11","M2 F12","M4 F12","M5 F12","M8 F12","M9 F12","M2 F13","M4 F13","M5 F13","M8 F13","M9 F13","Z4S2 R=1","Z3S2 R=1","Z2S2 R=1","Z1S2 R=1"], "range": ["#0072BD","#D95319","#EDB120","#7E2F8E","#77AC30","#4DBEEE","#A2142F","#0072BD","#D95319","#EDB120","#7E2F8E","#77AC30","#4DBEEE","#A2142F","#0072BD","#D95319","#EDB120","#7E2F8E","#77AC30","#4DBEEE","#A2142F","#0072BD","#D95319","#EDB120","#7E2F8E","#000000","#000000","#000000","#000000"]}, "legend": {"title": null}},
    "strokeDash": {"field": "series", "type": "nominal", "scale": {"domain": ["M2 F9","M4 F9","M5 F9","M8 F9","M9 F9","M2 F10","M4 F10","M5 F10","M8 F10","M9 F10","M2 F11","M4 F11","M5 F11","M8 F11","M9 F11","M2 F12","M4 F12","M5 F12","M8 F12","M9 F12","M2 F13","M4 F13","M5 F13","M8 F13","M9 F13","Z4S2 R=1","Z3S2 R=1","Z2S2 R=1","Z1S2 R=1"], "range": [[1,0],[1,0],[1,0],[1,0],[1,0],[1,0],[1,0],[1,0],[1,0],[1,0],[1,0],[1,0],[1,0],[1,0],[1,0],[1,0],[1,0],[1,0],[1,0],[1,0],[1,0],[1,0],[1,0],[1,0],[1,0],[1,0],[15,11],[3.3,3.3],[16,5,4,5]]}, "legend": {"title": null}},
    "strokeWidth": {"condition": {"test": "indexof(datum.series, 'R=1') >= 0", "value": 3.2}, "value": 1.6}
   }},
  {"data": {"name": "n2"},
   "mark": {"type": "text", "align": "left", "baseline": "middle", "fontSize": 22, "font": "Liberation Sans", "color": "#000000"},
   "encoding": {
    "x": {"field": "T", "type": "quantitative", "scale": {"domain": [0, 3], "nice": false, "zero": false}, "axis": {"orient": "top", "values": [1,2], "labels": false, "grid": false, "title": null}},
    "y": {"field": "Sa", "type": "quantitative", "scale": {"domain": [0, 1500], "nice": false}, "axis": {"orient": "right", "values": [500,1000], "labels": false, "grid": false, "title": null}},
    "text": {"field": "label"}
   }}
 ],
 "resolve": {"axis": {"x": "independent", "y": "independent"}}
},
{
 "width": 359, "height": 891,
 "title": {"text": "EPU-PEB C23-F9:F19-S3"},
 "layer": [
  {"data": {"name": "d3"},
   "mark": {"type": "line", "strokeCap": "butt", "strokeJoin": "miter"},
   "encoding": {
    "x": {"field": "T", "type": "quantitative", "scale": {"domain": [0, 3], "nice": false, "zero": false}, "axis": {"values": [0,1,2,3], "title": "Periodo T (s)", "grid": true, "labelPadding": 23, "titlePadding": 5}},
    "y": {"field": "Sa", "type": "quantitative", "scale": {"domain": [0, 1500], "nice": false}, "axis": {"values": [0,500,1000,1500], "format": "d", "title": "Ordenada Espectral (gals)", "grid": true, "labelPadding": 12, "titlePadding": 12}},
    "color": {"field": "series", "type": "nominal", "scale": {"domain": ["M2 F9","M10 F9","M2 F10","M10 F10","M2 F11","M10 F11","M2 F12","M10 F12","M2 F13","M10 F13","Z4S3 R=1","Z3S3 R=1","Z2S3 R=1","Z1S3 R=1"], "range": ["#0072BD","#D95319","#EDB120","#7E2F8E","#77AC30","#4DBEEE","#A2142F","#0072BD","#D95319","#EDB120","#000000","#000000","#000000","#000000"]}, "legend": {"title": null, "labelExpr": "(datum.label == 'M10 F11' || datum.label == 'M10 F12' || datum.label == 'M10 F13') ? 'M10 F10' : datum.label"}},
    "strokeDash": {"field": "series", "type": "nominal", "scale": {"domain": ["M2 F9","M10 F9","M2 F10","M10 F10","M2 F11","M10 F11","M2 F12","M10 F12","M2 F13","M10 F13","Z4S3 R=1","Z3S3 R=1","Z2S3 R=1","Z1S3 R=1"], "range": [[1,0],[1,0],[1,0],[1,0],[1,0],[1,0],[1,0],[1,0],[1,0],[1,0],[1,0],[15,11],[3.3,3.3],[16,5,4,5]]}, "legend": {"title": null, "labelExpr": "(datum.label == 'M10 F11' || datum.label == 'M10 F12' || datum.label == 'M10 F13') ? 'M10 F10' : datum.label"}},
    "strokeWidth": {"condition": {"test": "indexof(datum.series, 'R=1') >= 0", "value": 3.2}, "value": 1.6}
   }},
  {"data": {"name": "n3"},
   "mark": {"type": "text", "align": "left", "baseline": "middle", "fontSize": 22, "font": "Liberation Sans", "color": "#000000"},
   "encoding": {
    "x": {"field": "T", "type": "quantitative", "scale": {"domain": [0, 3], "nice": false, "zero": false}, "axis": {"orient": "top", "values": [1,2], "labels": false, "grid": false, "title": null}},
    "y": {"field": "Sa", "type": "quantitative", "scale": {"domain": [0, 1500], "nice": false}, "axis": {"orient": "right", "values": [500,1000], "labels": false, "grid": false, "title": null}},
    "text": {"field": "label"}
   }}
 ],
 "resolve": {"axis": {"x": "independent", "y": "independent"}}
}
]
}
